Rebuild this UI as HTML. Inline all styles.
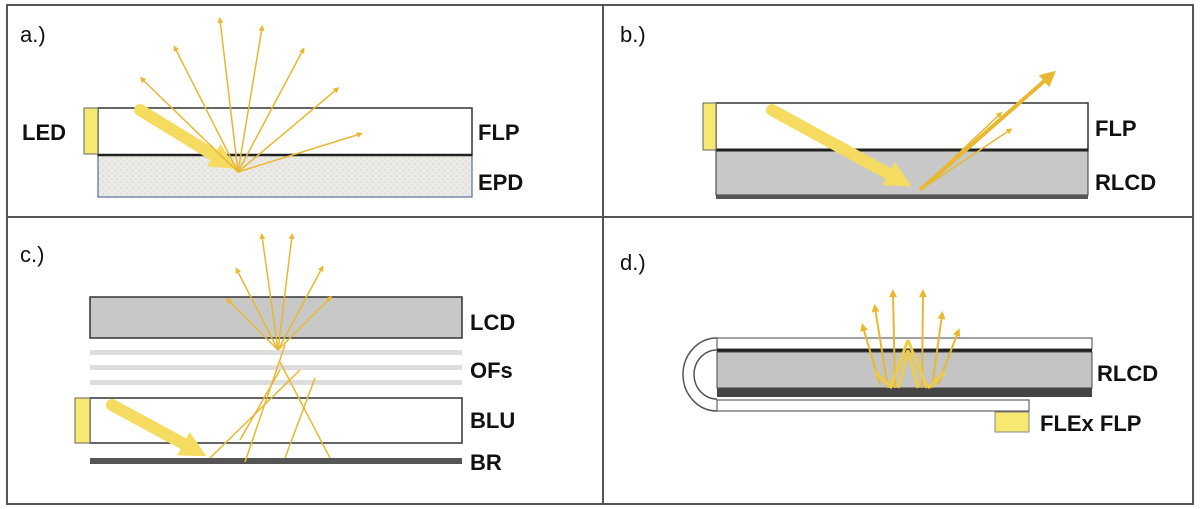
<!DOCTYPE html>
<html><head><style>body{margin:0;background:#fff}svg{display:block}text{font-family:"Liberation Sans",sans-serif;font-size:22px;fill:#111}.b{font-weight:bold}</style></head><body>
<svg width="1200" height="509" viewBox="0 0 1200 509">
<defs>
<marker id="ah" viewBox="0 0 10 10" refX="5" refY="5" markerWidth="4" markerHeight="4" orient="auto"><path d="M0,0L10,5L0,10z" fill="#e8b830"/></marker>
<marker id="bh" viewBox="0 0 10 10" refX="5" refY="5" markerWidth="2.2" markerHeight="2.2" orient="auto"><path d="M0,0L10,5L0,10z" fill="#f5dc60"/></marker>
<pattern id="n" width="6" height="6" patternUnits="userSpaceOnUse"><rect width="6" height="6" fill="#eceae6"/><circle cx="1" cy="2" r="0.8" fill="#d4d2cc"/><circle cx="4" cy="5" r="0.8" fill="#d8d6d0"/></pattern>
</defs>
<rect x="7" y="5" width="1186" height="499" fill="none" stroke="#555" stroke-width="2"/>
<line x1="603" y1="5" x2="603" y2="504" stroke="#555" stroke-width="2"/>
<line x1="7" y1="217" x2="1193" y2="217" stroke="#555" stroke-width="2"/>

<!-- a -->
<text x="20" y="42" font-size="22">a.)</text>
<rect x="98" y="155" width="374" height="42" fill="url(#n)" stroke="#5a6aa0" stroke-width="1.2"/>
<rect x="98" y="108" width="374" height="47" fill="#fff" stroke="#333" stroke-width="1.5"/>
<line x1="98" y1="155" x2="472" y2="155" stroke="#222" stroke-width="2.5"/>
<rect x="84" y="108" width="14" height="46" fill="#f6e870" stroke="#666" stroke-width="1"/>
<text class="b" x="22" y="140">LED</text>
<text class="b" x="478" y="140">FLP</text>
<text class="b" x="478" y="190">EPD</text>
<line x1="140" y1="110" x2="225" y2="162" stroke="#f5dc60" stroke-width="12" stroke-linecap="round" marker-end="url(#bh)"/>
<g stroke="#e8b830" stroke-width="1.5" fill="none" marker-end="url(#ah)">
<line x1="238" y1="172" x2="142" y2="79"/>
<line x1="238" y1="172" x2="175" y2="48"/>
<line x1="238" y1="172" x2="220" y2="20"/>
<line x1="238" y1="172" x2="262" y2="28"/>
<line x1="238" y1="172" x2="303" y2="50"/>
<line x1="238" y1="172" x2="337" y2="89"/>
<line x1="238" y1="172" x2="360" y2="134"/>
</g>

<!-- b -->
<text x="620" y="42" font-size="22">b.)</text>
<rect x="716" y="150" width="372" height="45" fill="#c8c8c8" stroke="#333" stroke-width="1"/>
<rect x="716" y="195" width="372" height="4" fill="#555"/>
<rect x="716" y="103" width="372" height="47" fill="#fff" stroke="#333" stroke-width="1.5"/>
<line x1="716" y1="150" x2="1088" y2="150" stroke="#222" stroke-width="3"/>
<rect x="703" y="103" width="13" height="47" fill="#f6e870" stroke="#666" stroke-width="1"/>
<text class="b" x="1095" y="136">FLP</text>
<text class="b" x="1095" y="190">RLCD</text>
<line x1="772" y1="110" x2="900" y2="180" stroke="#f5dc60" stroke-width="12" stroke-linecap="round" marker-end="url(#bh)"/>
<g stroke="#e8b830" fill="none" marker-end="url(#ah)">
<line x1="920" y1="190" x2="1050" y2="76" stroke-width="4"/>
<line x1="920" y1="190" x2="1000" y2="114" stroke-width="1.5"/>
<line x1="920" y1="190" x2="1010" y2="130" stroke-width="1.5"/>
</g>

<!-- c -->
<text x="20" y="262" font-size="22">c.)</text>
<rect x="90" y="297" width="372" height="41" fill="#c8c8c8" stroke="#333" stroke-width="1.5"/>
<rect x="90" y="350" width="372" height="5" fill="#ddd"/>
<rect x="90" y="365" width="372" height="5" fill="#ddd"/>
<rect x="90" y="380" width="372" height="5" fill="#ddd"/>
<rect x="90" y="398" width="372" height="45" fill="#fff" stroke="#333" stroke-width="1.5"/>
<rect x="75" y="398" width="15" height="45" fill="#f6e870" stroke="#666" stroke-width="1"/>
<rect x="90" y="458" width="372" height="6" fill="#555"/>
<text class="b" x="470" y="330">LCD</text>
<text class="b" x="470" y="378">OFs</text>
<text class="b" x="470" y="428">BLU</text>
<text class="b" x="470" y="470">BR</text>
<line x1="112" y1="405" x2="195" y2="450" stroke="#f5dc60" stroke-width="12" stroke-linecap="round" marker-end="url(#bh)"/>
<g stroke="#e8b830" stroke-width="1.5" fill="none">
<line x1="210" y1="458" x2="300" y2="370"/>
<line x1="245" y1="462" x2="285" y2="345"/>
<line x1="280" y1="362" x2="330" y2="458"/>
<line x1="315" y1="378" x2="285" y2="458"/>
<line x1="280" y1="370" x2="240" y2="440"/>
</g>
<g stroke="#e8b830" stroke-width="1.5" fill="none" marker-end="url(#ah)">
<line x1="278" y1="350" x2="228" y2="300"/>
<line x1="278" y1="350" x2="237" y2="270"/>
<line x1="278" y1="350" x2="262" y2="236"/>
<line x1="278" y1="350" x2="292" y2="236"/>
<line x1="278" y1="350" x2="322" y2="268"/>
<line x1="278" y1="350" x2="330" y2="298"/>
</g>

<!-- d -->
<text x="620" y="270" font-size="22">d.)</text>
<path d="M717,338 A34,36.5 0 0 0 717,411" fill="none" stroke="#555" stroke-width="1.5"/>
<path d="M717,350 A23,24.5 0 0 0 717,399" fill="none" stroke="#555" stroke-width="1.5"/>
<rect x="717" y="338" width="375" height="11" fill="#fff" stroke="#444" stroke-width="1"/>
<rect x="717" y="349" width="375" height="3" fill="#222"/>
<rect x="717" y="352" width="375" height="36" fill="#c4c4c4" stroke="#444" stroke-width="1"/>
<rect x="717" y="388" width="375" height="9" fill="#444"/>
<rect x="717" y="400" width="312" height="11" fill="#fff" stroke="#444" stroke-width="1"/>
<rect x="995" y="412" width="34" height="20" fill="#f6e870" stroke="#888" stroke-width="1"/>
<text class="b" x="1097" y="381">RLCD</text>
<text class="b" x="1040" y="431">FLEx FLP</text>
<g stroke="#e8b830" stroke-width="2" fill="none" marker-end="url(#ah)">
<line x1="880" y1="385" x2="863" y2="327"/>
<line x1="888" y1="388" x2="875" y2="308"/>
<line x1="895" y1="388" x2="893" y2="293"/>
<line x1="922" y1="388" x2="923" y2="293"/>
<line x1="932" y1="388" x2="942" y2="315"/>
<line x1="938" y1="385" x2="958" y2="332"/>
</g>
<g stroke="#f0cc40" stroke-width="3" fill="none">
<line x1="890" y1="388" x2="908" y2="340"/>
<line x1="908" y1="340" x2="927" y2="388"/>
<line x1="898" y1="388" x2="908" y2="350"/>
<line x1="908" y1="350" x2="918" y2="388"/>
<line x1="875" y1="372" x2="892" y2="388"/>
<line x1="945" y1="372" x2="928" y2="388"/>
</g>
</svg>
</body></html>
